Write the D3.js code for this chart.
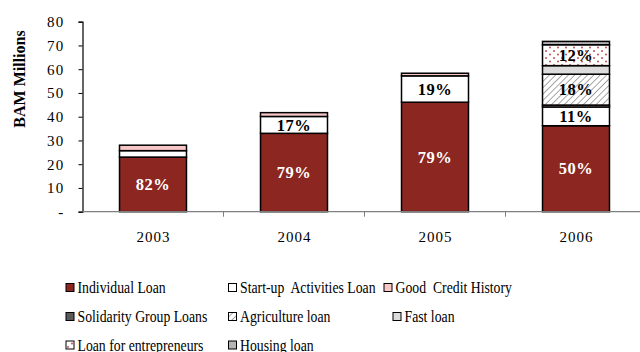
<!DOCTYPE html>
<html>
<head>
<meta charset="utf-8">
<script src="https://cdn.jsdelivr.net/npm/d3@7"></script>
<style>
  html, body { margin: 0; padding: 0; background: #fff; }
  svg { display: block; }
</style>
</head>
<body>
<svg id="chart" width="640" height="352"></svg>
<script>
// Loan portfolio by product, BAM millions
const years = ["2003", "2004", "2005", "2006"];
const seriesNames = [
  "Individual Loan",
  "Start-up  Activities Loan",
  "Good  Credit History",
  "Solidarity Group Loans",
  "Agriculture loan",
  "Fast loan",
  "Loan for entrepreneurs",
  "Housing loan"
];
const individualLoan   = [23.0, 33.0, 46.1, 36.2];
const startupLoan      = [2.7, 7.1, 11.1, 7.9];
const goodCredit       = [2.3, 1.6, 1.1, 0.8];
const solidarityGroup  = [0, 0, 0, 0];
const agricultureLoan  = [0, 0, 0, 13.0];
const fastLoan         = [0, 0, 0, 3.6];
const entrepreneurLoan = [0, 0, 0, 8.8];
const housingLoan      = [0, 0, 0, 1.4];
const yTicks = [0, 10, 20, 30, 40, 50, 60, 70, 80];

const FONT = "Liberation Serif";

const seriesValues = [individualLoan, startupLoan, goodCredit, solidarityGroup,
                      agricultureLoan, fastLoan, entrepreneurLoan, housingLoan];

const rows = years.map((y, i) => {
  const r = { year: y };
  seriesNames.forEach((s, k) => { r[s] = seriesValues[k][i]; });
  return r;
});
const totals = years.map((y, i) => d3.sum(seriesValues, v => v[i]));

const svg = d3.select("#chart").attr("font-family", FONT);
const defs = svg.append("defs");

// diagonal hatch for agriculture
const hatch = defs.append("pattern")
  .attr("id", "hatch").attr("patternUnits", "userSpaceOnUse")
  .attr("width", 4.5).attr("height", 4.5)
  .attr("patternTransform", "rotate(45)");
hatch.append("rect").attr("width", 4.5).attr("height", 4.5).attr("fill", "#fff");
hatch.append("line").attr("x1", 0).attr("y1", 0).attr("x2", 0).attr("y2", 4.5)
  .attr("stroke", "#8a8a8a").attr("stroke-width", 1.5);

// red dots for entrepreneurs
const dots = defs.append("pattern")
  .attr("id", "dots").attr("patternUnits", "userSpaceOnUse")
  .attr("width", 8).attr("height", 7);
dots.append("rect").attr("width", 8).attr("height", 7).attr("fill", "#fff");
dots.append("circle").attr("cx", 2).attr("cy", 2).attr("r", 1).attr("fill", "#c0504d");
dots.append("circle").attr("cx", 6).attr("cy", 5.5).attr("r", 1).attr("fill", "#c0504d");

const fills = {
  "Individual Loan": "#8b2620",
  "Start-up  Activities Loan": "#ffffff",
  "Good  Credit History": "#f7c6c6",
  "Solidarity Group Loans": "#5a5a5a",
  "Agriculture loan": "url(#hatch)",
  "Fast loan": "#dcdcdc",
  "Loan for entrepreneurs": "url(#dots)",
  "Housing loan": "#b4b4b4"
};
const labelColor = {
  "Individual Loan": "#fff"
};

const x = d3.scaleBand().domain(years).range([82.5, 646.5])
  .paddingInner(0.525).paddingOuter(0.2625);
const y = d3.scaleLinear().domain([0, 80]).range([211.7, 21.7]);

const stack = d3.stack().keys(seriesNames);
const layers = stack(rows);

// bars
const gLayers = svg.append("g").selectAll("g").data(layers).join("g")
  .attr("fill", d => fills[d.key]);
gLayers.selectAll("rect").data(d => d.map(p => ({ p, key: d.key })))
  .join("rect")
  .filter(d => d.p[1] - d.p[0] > 0)
  .attr("x", d => x(d.p.data.year))
  .attr("width", x.bandwidth())
  .attr("y", d => y(d.p[1]))
  .attr("height", d => y(d.p[0]) - y(d.p[1]))
  .attr("stroke", "#000").attr("stroke-width", 1.5);

// percentage labels (segments of at least a tenth of the bar)
const labels = [];
layers.forEach(layer => {
  layer.forEach((p, i) => {
    const share = (p[1] - p[0]) / totals[i];
    if (share >= 0.1) labels.push({ key: layer.key, year: p.data.year, mid: (p[0] + p[1]) / 2, pct: Math.round(share * 100) });
  });
});
svg.append("g").selectAll("text").data(labels).join("text")
  .attr("x", d => x(d.year) + x.bandwidth() / 2)
  .attr("y", d => y(d.mid))
  .attr("dy", "0.35em")
  .attr("text-anchor", "middle")
  .attr("font-family", FONT)
  .attr("font-weight", "bold")
  .attr("font-size", 16.5)
  .attr("letter-spacing", 0.5)
  .attr("fill", d => labelColor[d.key] || "#000")
  .text(d => d.pct + "%");

// y axis
const yAxis = svg.append("g").attr("transform", "translate(82.5,0)")
  .call(d3.axisLeft(y).tickValues(yTicks).tickSize(4).tickPadding(14)
    .tickFormat(d => d === 0 ? "-" : d));
yAxis.attr("font-family", FONT).attr("font-size", 15);
yAxis.select(".domain").attr("stroke", "#000").attr("stroke-width", 1.2);
yAxis.selectAll(".tick line").attr("stroke", "#000");
yAxis.selectAll(".tick text").attr("fill", "#000").attr("letter-spacing", 1.2);

// x axis
const xAxis = svg.append("g").attr("transform", "translate(0,211.7)");
xAxis.append("line").attr("x1", 82.5).attr("x2", 646.5).attr("y1", 0).attr("y2", 0)
  .attr("stroke", "#808080").attr("stroke-width", 1.3);
xAxis.selectAll("line.sep").data(years.slice(1)).join("line").attr("class", "sep")
  .attr("x1", d => x(d) - x.step() * x.paddingInner() / 2)
  .attr("x2", d => x(d) - x.step() * x.paddingInner() / 2)
  .attr("y1", 0).attr("y2", 5).attr("stroke", "#808080");
xAxis.selectAll("text").data(years).join("text")
  .attr("x", d => x(d) + x.bandwidth() / 2 + 0.5)
  .attr("y", 30).attr("text-anchor", "middle")
  .attr("font-family", FONT)
  .attr("font-size", 15).attr("letter-spacing", 1).attr("fill", "#000")
  .text(d => d);

// y axis title
svg.append("text")
  .attr("transform", "translate(25,79) rotate(-90)")
  .attr("text-anchor", "middle")
  .attr("font-family", FONT)
  .attr("font-weight", "bold").attr("font-size", 16)
  .text("BAM Millions");

// legend: three columns, condensed serif text
const legendPos = [
  [66, 287.5], [228.5, 287.5], [384, 287.5],
  [66, 316.5], [228.5, 316.5], [393, 316.5],
  [66, 345], [228.5, 345]
];
const legend = svg.append("g").selectAll("g").data(seriesNames).join("g")
  .attr("transform", (d, i) => `translate(${legendPos[i][0]},${legendPos[i][1]})`);
legend.append("rect").attr("x", 0).attr("y", -4).attr("width", 8).attr("height", 8)
  .attr("fill", d => fills[d]).attr("stroke", "#000").attr("stroke-width", 1);
legend.append("text")
  .attr("transform", "translate(11.5,0) scale(0.86,1)")
  .attr("dy", "0.35em")
  .attr("font-family", FONT)
  .attr("font-size", 16).attr("fill", "#000")
  .attr("xml:space", "preserve")
  .style("white-space", "pre")
  .text(d => d);
</script>
</body>
</html>
